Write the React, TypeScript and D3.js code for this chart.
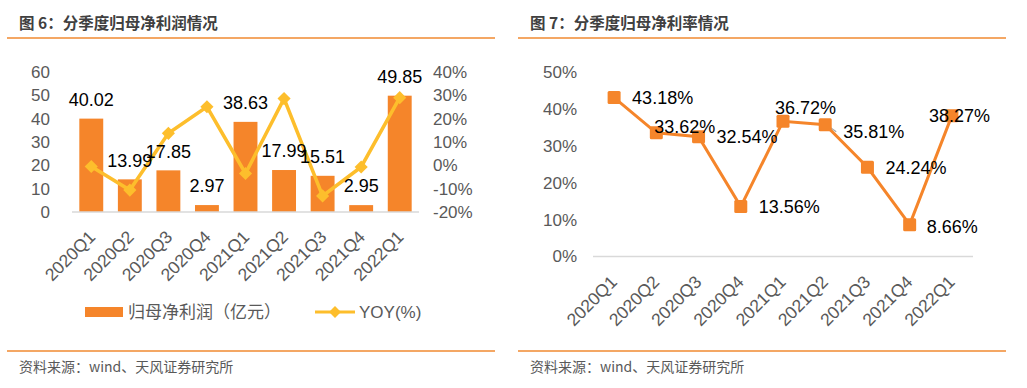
import React, { useRef, useEffect } from "react";
import * as d3 from "d3";

const quarters = ["2020Q1", "2020Q2", "2020Q3", "2020Q4", "2021Q1", "2021Q2", "2021Q3", "2021Q4", "2022Q1"];
const profit = [40.02, 13.99, 17.85, 2.97, 38.63, 17.99, 15.51, 2.95, 49.85];
const yoy = [-0.5, -10.6, 13.7, 25.1, -3.5, 28.6, -13.1, -0.7, 29.0];
const margin = [43.18, 33.62, 32.54, 13.56, 36.72, 35.81, 24.24, 8.66, 38.27];
const profitTicks = [0, 10, 20, 30, 40, 50, 60];
const yoyTicks = [-20, -10, 0, 10, 20, 30, 40];
const marginTicks = [0, 10, 20, 30, 40, 50];

// where each margin label sits relative to its marker (dx to text start, dy to text middle)
const marginLabelShift = [[18, 0], [-2, -6], [18, 0], [18, 0], [-8, -14], [18, 7], [18, 0], [17, 2], [-23, 0]];

const ORANGE = "#F5852A";
const GOLD = "#FDBE2C";
const GREY = "#595959";
const FONT = "'Liberation Sans', Arial, 'Noto Sans CJK SC', sans-serif";
const CJK = "'Noto Sans CJK SC', 'Liberation Sans', sans-serif";

function App() {
  const svgRef = useRef(null);

  useEffect(() => {
    const svg = d3.select(svgRef.current);
    svg.selectAll("*").remove();
    svg.append("rect").attr("width", 1027).attr("height", 388).attr("fill", "#fff");

    // frame pieces: title, rule lines, source
    const panels = [
      { x0: 7, x1: 495, tx: 19, title: "图 6：分季度归母净利润情况" },
      { x0: 518, x1: 1006, tx: 530, title: "图 7：分季度归母净利率情况" },
    ];
    panels.forEach((p) => {
      svg.append("text").attr("x", p.tx).attr("y", 29).text(p.title)
        .style("font-family", CJK).style("font-weight", "bold").style("font-size", "15.5px").attr("fill", "#404040");
      svg.append("line").attr("x1", p.x0).attr("x2", p.x1).attr("y1", 38).attr("y2", 38)
        .attr("stroke", "#F08A30").attr("stroke-width", 1.3);
      svg.append("line").attr("x1", p.x0).attr("x2", p.x1).attr("y1", 351).attr("y2", 351)
        .attr("stroke", "#F08A30").attr("stroke-width", 1.3);
      svg.append("text").attr("x", p.tx).attr("y", 372).text("资料来源：wind、天风证券研究所")
        .style("font-family", CJK).style("font-size", "14px").attr("fill", GREY);
    });

    // ---------- left: profit bars + yoy line ----------
    const x = d3.scaleBand().domain(quarters).range([72, 419]).paddingInner(0.38).paddingOuter(0.19);
    const yL = d3.scaleLinear().domain([0, 60]).range([212, 72]);
    const yR = d3.scaleLinear().domain([-20, 40]).range([212, 72]);
    const left = svg.append("g");

    left.selectAll(".tl").data(profitTicks).join("text")
      .attr("x", 50).attr("y", (d) => yL(d)).attr("dy", "0.35em").attr("text-anchor", "end")
      .text((d) => d).style("font-family", FONT).style("font-size", "17px").attr("fill", GREY);
    left.selectAll(".tr").data(yoyTicks).join("text")
      .attr("x", 433).attr("y", (d) => yR(d)).attr("dy", "0.35em")
      .text((d) => d + "%").style("font-family", FONT).style("font-size", "17px").attr("fill", GREY);

    left.selectAll(".bar").data(profit).join("rect")
      .attr("x", (d, i) => x(quarters[i])).attr("width", x.bandwidth())
      .attr("y", (d) => yL(d)).attr("height", (d) => yL(0) - yL(d)).attr("fill", ORANGE);

    left.append("line").attr("x1", 72).attr("x2", 419).attr("y1", 212).attr("y2", 212)
      .attr("stroke", "#D9D9D9").attr("stroke-width", 1.5);

    const cx = (i) => x(quarters[i]) + x.bandwidth() / 2;
    const yoyLine = d3.line().x((d, i) => cx(i)).y((d) => yR(d));
    left.append("path").datum(yoy).attr("d", yoyLine).attr("fill", "none")
      .attr("stroke", GOLD).attr("stroke-width", 3.5);
    left.selectAll(".dia").data(yoy).join("path")
      .attr("d", d3.symbol(d3.symbolDiamond2, 110)())
      .attr("transform", (d, i) => `translate(${cx(i)},${yR(d)})`)
      .attr("fill", GOLD);

    left.selectAll(".lab").data(profit).join("text")
      .attr("x", (d, i) => cx(i)).attr("y", (d) => yL(d) - 19).attr("dy", "0.35em")
      .attr("text-anchor", "middle").text((d) => d.toFixed(2))
      .style("font-family", FONT).style("font-size", "18px").attr("fill", "#000");

    left.selectAll(".xl").data(quarters).join("text")
      .attr("transform", (d, i) => `translate(${cx(i) + 5},${238}) rotate(-45)`)
      .attr("text-anchor", "end").text((d) => d)
      .style("font-family", FONT).style("font-size", "17.5px").attr("fill", GREY);

    // legend
    left.append("rect").attr("x", 85).attr("y", 307).attr("width", 38).attr("height", 10).attr("fill", ORANGE);
    left.append("text").attr("x", 128).attr("y", 312).attr("dy", "0.35em").text("归母净利润（亿元）")
      .style("font-family", CJK).style("font-size", "17px").attr("fill", GREY);
    left.append("line").attr("x1", 315).attr("x2", 355).attr("y1", 312).attr("y2", 312)
      .attr("stroke", GOLD).attr("stroke-width", 3);
    left.append("path").attr("d", d3.symbol(d3.symbolDiamond2, 90)())
      .attr("transform", "translate(335,312)").attr("fill", GOLD);
    left.append("text").attr("x", 359).attr("y", 312).attr("dy", "0.35em").text("YOY(%)")
      .style("font-family", FONT).style("font-size", "17px").attr("fill", GREY);

    // ---------- right: net margin line ----------
    const x2 = d3.scaleBand().domain(quarters).range([593, 973]);
    const y2 = d3.scaleLinear().domain([0, 50]).range([256.5, 72.5]);
    const right = svg.append("g");
    const px = (i) => x2(quarters[i]) + x2.bandwidth() / 2;

    right.selectAll(".t").data(marginTicks).join("text")
      .attr("x", 577).attr("y", (d) => y2(d)).attr("dy", "0.35em").attr("text-anchor", "end")
      .text((d) => d + "%").style("font-family", FONT).style("font-size", "17px").attr("fill", GREY);
    right.append("line").attr("x1", 593).attr("x2", 973).attr("y1", y2(0)).attr("y2", y2(0))
      .attr("stroke", "#D9D9D9").attr("stroke-width", 1.5);

    const mLine = d3.line().x((d, i) => px(i)).y((d) => y2(d));
    right.append("path").datum(margin).attr("d", mLine).attr("fill", "none")
      .attr("stroke", ORANGE).attr("stroke-width", 3);

    // small leader line on 35.81%
    right.append("line").attr("x1", px(5) + 4).attr("y1", y2(margin[5]) + 2)
      .attr("x2", px(5) + 11).attr("y2", y2(margin[5]) + 7)
      .attr("stroke", "#A6A6A6").attr("stroke-width", 1.2);

    right.selectAll(".m").data(margin).join("rect")
      .attr("x", (d, i) => px(i) - 6.5).attr("y", (d) => y2(d) - 6.5)
      .attr("width", 13).attr("height", 13).attr("rx", 1.5).attr("fill", ORANGE);

    right.selectAll(".lab").data(margin).join("text")
      .attr("x", (d, i) => px(i) + marginLabelShift[i][0])
      .attr("y", (d, i) => y2(d) + marginLabelShift[i][1]).attr("dy", "0.35em")
      .text((d) => d.toFixed(2) + "%")
      .style("font-family", FONT).style("font-size", "18px").attr("fill", "#000");

    right.selectAll(".xl").data(quarters).join("text")
      .attr("transform", (d, i) => `translate(${px(i) + 4},${283}) rotate(-45)`)
      .attr("text-anchor", "end").text((d) => d)
      .style("font-family", FONT).style("font-size", "17.5px").attr("fill", GREY);
  }, []);

  return (
    <svg ref={svgRef} width={1027} height={388}
      style={{ position: "absolute", left: 0, top: 0, display: "block" }}></svg>
  );
}

export default App;
